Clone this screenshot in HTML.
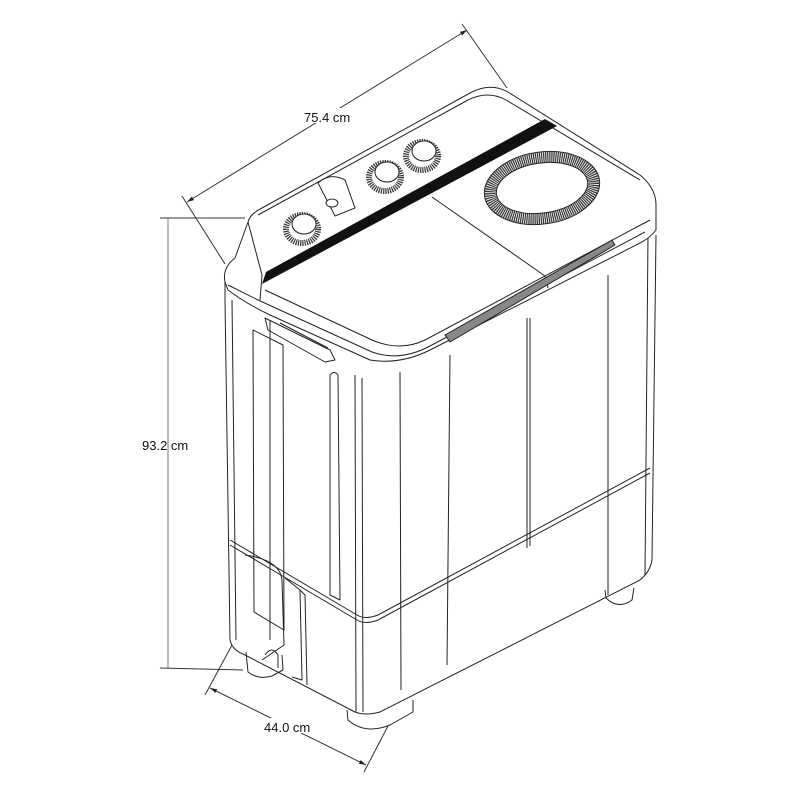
<!DOCTYPE html>
<html><head><meta charset="utf-8"><style>
html,body{margin:0;padding:0;background:#fff;}
svg{display:block;}
text{font-family:"Liberation Sans",sans-serif;font-size:13px;fill:#111;}
</style></head><body>
<svg width="800" height="800" viewBox="0 0 800 800" xmlns="http://www.w3.org/2000/svg">
<defs>
<marker id="ar" viewBox="0 0 10 10" refX="10" refY="5" markerWidth="7" markerHeight="7" orient="auto-start-reverse"><path d="M0,2 L10,5 L0,8 z" fill="#222"/></marker>
</defs>
<g stroke="#333" stroke-width="1" fill="none">
<line x1="187" y1="202" x2="467" y2="30" marker-start="url(#ar)" marker-end="url(#ar)"/>
<line x1="182" y1="196" x2="225" y2="264"/>
<line x1="462" y1="24" x2="507" y2="88"/>
<line x1="168" y1="218" x2="168" y2="668" stroke="#777"/>
<line x1="160" y1="218" x2="245" y2="218"/>
<line x1="160" y1="668" x2="243" y2="670"/>
<line x1="210" y1="688" x2="366" y2="765" marker-start="url(#ar)" marker-end="url(#ar)"/>
<line x1="232" y1="645" x2="205" y2="695"/>
<line x1="388" y1="726" x2="364" y2="772"/>
</g>
<rect x="300" y="108" width="60" height="15" fill="#fff"/>
<text x="304" y="122">75.4 cm</text>
<text x="142" y="450">93.2 cm</text>
<rect x="262" y="718" width="54" height="15" fill="#fff"/>
<text x="264" y="732">44.0 cm</text>

<g stroke="#222" stroke-width="1" fill="none" stroke-linejoin="round">
<path d="M225,282 L225,300 L230,640 Q232,650 245,655 L355,712 Q365,716 380,712 L640,580 Q650,572 652,560 L656,235"/>
<line x1="355" y1="375" x2="356" y2="712"/>
<line x1="362" y1="378" x2="363" y2="712"/>
<line x1="400" y1="372" x2="401" y2="690"/>
<line x1="450" y1="355" x2="447" y2="665"/>
<line x1="527" y1="318" x2="527" y2="548"/>
<line x1="530" y1="318" x2="530" y2="546"/>
<line x1="608" y1="275" x2="608" y2="595"/>
<line x1="648" y1="235" x2="645" y2="575"/>
<line x1="232" y1="300" x2="236" y2="640"/>
<path d="M253,330 L283,345 L284,630 L254,612 Z"/>
<path d="M330,375 Q334,370 338,375 L340,600 L330,595 Z"/>
<line x1="270" y1="320" x2="270" y2="640"/>
<path d="M230,540 L357,615 Q365,620 378,615 L650,468"/>
<path d="M230,545 L357,620 Q365,625 378,620 L650,473"/>
<path d="M245,555 Q280,560 282,580 L284,645 L262,660"/>
<path d="M285,578 L300,590 L302,680 L292,677"/>
<path d="M300,590 L305,595 L307,685"/>
<path d="M246,652 L248,672 Q258,680 272,676 L283,670 L282,655"/>
<path d="M265,655 Q272,645 278,655 L278,668"/>
<path d="M347,710 L348,720 Q365,735 390,725 L413,712 L413,700"/>
<path d="M605,590 L606,598 Q618,610 632,600 L634,588"/>
<path d="M225,282 Q222,268 235,258 L248,222 Q250,214 262,208 L470,93 Q490,82 508,92 L640,175 Q656,188 656,205 L656,230 Q650,238 640,243 L430,350 Q400,365 370,360 L270,315 Q245,303 228,290 Z" fill="#fff"/>
<path d="M228,285 L258,300 L372,352 Q400,362 430,346 L645,232"/>
<path d="M248,222 L262,275 L260,300"/>
<path d="M265,290 L372,340 Q400,352 425,340 L650,220"/>
<path d="M258,215 L468,100 Q488,90 506,100 L640,180"/>
<line x1="432" y1="197" x2="545" y2="276"/>
<line x1="545" y1="276" x2="548" y2="288"/>
<path d="M265,318 L330,350 L335,360 L325,362 L268,330 Z"/>
<path d="M280,323 L328,348"/>
<path d="M445,335 L612,240 L615,245 L450,342 Z" fill="#888"/>
</g>
<polygon points="262,284 266,272 545,119 557,126" fill="#111"/>
<g stroke="#222" fill="#fff">
<ellipse cx="302" cy="229" rx="16" ry="14" stroke-width="6" stroke="#333" stroke-dasharray="1.2 1"/>
<ellipse cx="304" cy="224" rx="12" ry="10" stroke-width="1"/>
<ellipse cx="385" cy="177" rx="16" ry="14" stroke-width="6" stroke="#333" stroke-dasharray="1.2 1"/>
<ellipse cx="387" cy="172" rx="12" ry="10" stroke-width="1"/>
<ellipse cx="422" cy="156" rx="16" ry="14" stroke-width="6" stroke="#333" stroke-dasharray="1.2 1"/>
<ellipse cx="424" cy="151" rx="12" ry="10" stroke-width="1"/>
<path d="M318,183 Q330,172 345,180 L355,208 L335,216 Z" stroke-width="1"/>
<ellipse cx="332" cy="203" rx="6" ry="4" stroke-width="1"/>
<ellipse cx="542" cy="188" rx="52" ry="30" transform="rotate(-8 542 188)" stroke-width="11" stroke="#333" stroke-dasharray="1.2 0.8" fill="none"/>
<ellipse cx="542" cy="188" rx="58" ry="36" transform="rotate(-8 542 188)" stroke-width="1" fill="none"/>
<ellipse cx="542" cy="188" rx="46" ry="25" transform="rotate(-8 542 188)" stroke-width="1"/>
</g>
</svg>
</body></html>
